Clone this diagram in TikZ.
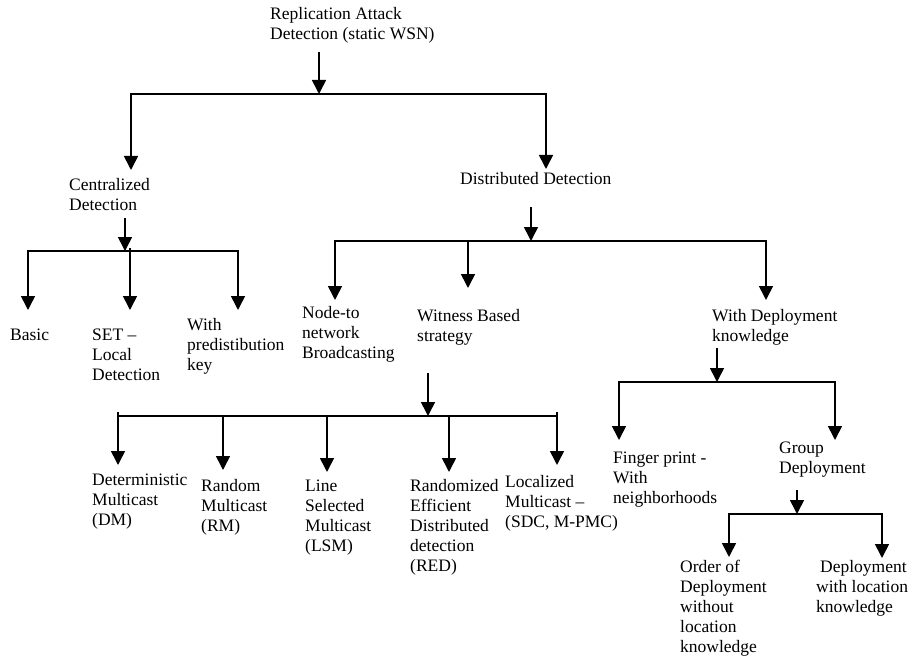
\documentclass[tikz,border=0pt]{standalone}
\usepackage{fontspec}
\setmainfont{Liberation Serif}
\usetikzlibrary{arrows.meta}

\begin{document}
\begin{tikzpicture}[x=1pt,y=-1pt]
			\tikzset{
				leaf/.style={anchor=base west, align=left, inner sep=0pt, font=\fontsize{17.5}{20}\selectfont},
				link/.style={line width=1.6pt},
				down/.style={link, -{Triangle[length=14pt,width=14pt]}}
			}
			\useasboundingbox (0,0) rectangle (908,658);

			% Top: replication attack detection
			\node[leaf] (root) at (270,40) {Replication Attack\\Detection (static WSN)};
			\node[leaf] (cent) at (69,210) {Centralized\\Detection};
			\node[leaf] (dist) at (460,185) {Distributed Detection};
			\coordinate (j0) at (319,94);
			\coordinate (a-cent) at (131,170);
			\coordinate (a-dist) at (546,169);
			\draw[down, shorten <=8pt] (root.south -| j0) -- (j0);
			\foreach \t in {a-cent, a-dist}
				\draw[down] (j0) -| (\t);

			% Centralized detection
			\node[leaf] (basic) at (10,340) {Basic};
			\node[leaf] (set) at (92,380) {SET --\\Local\\Detection};
			\node[leaf] (pred) at (187,370) {With\\predistibution\\key};
			\coordinate (j1) at (125,251);
			\coordinate (a-basic) at (28,310);
			\coordinate (a-set) at (130,310);
			\coordinate (a-pred) at (238,310);
			\draw[down, shorten <=8pt] (cent.south -| j1) -- (j1);
			\foreach \t in {a-basic, a-pred}
				\draw[down] (j1) -| (\t);
			\draw[down, shorten <=-3pt] (j1 -| a-set) -- (a-set);

			% Distributed detection
			\node[leaf] (ntn) at (302,358) {Node-to\\network\\Broadcasting};
			\node[leaf] (wit) at (417,341) {Witness Based\\strategy};
			\node[leaf] (wdk) at (712,341) {With Deployment\\knowledge};
			\coordinate (j2) at (531,241);
			\coordinate (a-ntn) at (335,300);
			\coordinate (a-wit) at (468,288);
			\coordinate (a-wdk) at (766,300);
			\draw[down, shorten <=22pt] (dist.south -| j2) -- (j2);
			\foreach \t in {a-ntn, a-wit, a-wdk}
				\draw[down] (j2) -| (\t);

			% Witness based strategy
			\node[leaf] (dm) at (92,525) {Deterministic\\Multicast\\(DM)};
			\node[leaf] (rm) at (201,531) {Random\\Multicast\\(RM)};
			\node[leaf] (lsm) at (305,551) {Line\\Selected\\Multicast\\(LSM)};
			\node[leaf] (red) at (410,571) {Randomized\\Efficient\\Distributed\\detection\\(RED)};
			\node[leaf] (lm) at (505,527) {Localized\\Multicast --\\(SDC, M-PMC)};
			\coordinate (j3) at (428,416);
			\coordinate (a-dm) at (118,465);
			\coordinate (a-rm) at (223,470);
			\coordinate (a-lsm) at (327,472);
			\coordinate (a-red) at (449,472);
			\coordinate (a-lm) at (557,465);
			\draw[down, shorten <=28pt] (wit.south -| j3) -- (j3);
			\draw[link, line width=1.3pt] (j3 -| a-dm) -- (j3 -| a-lm);
			\foreach \t in {a-dm, a-lm}
				\draw[down, shorten <=-4pt] (j3 -| \t) -- (\t);
			\foreach \t in {a-rm, a-lsm, a-red}
				\draw[down] (j3 -| \t) -- (\t);

			% With deployment knowledge
			\node[leaf] (fp) at (613,503) {Finger print -\\With\\neighborhoods};
			\node[leaf] (grp) at (779,473) {Group\\Deployment};
			\coordinate (j4) at (717,382);
			\coordinate (a-fp) at (619,440);
			\coordinate (a-grp) at (835,440);
			\draw[down, shorten <=3pt] (wdk.south -| j4) -- (j4);
			\foreach \t in {a-fp, a-grp}
				\draw[down] (j4) -| (\t);

			% Group deployment
			\node[leaf] (odr) at (680,652) {Order of\\Deployment\\without\\location\\knowledge};
			\node[leaf] (dwl) at (816,612) {\hspace{4pt}Deployment\\with location\\knowledge};
			\coordinate (j5) at (797,514);
			\coordinate (a-odr) at (729,557);
			\coordinate (a-dwl) at (882,558);
			\draw[down, shorten <=13pt] (grp.south -| j5) -- (j5);
			\foreach \t in {a-odr, a-dwl}
				\draw[down] (j5) -| (\t);
		\end{tikzpicture}
\end{document}
